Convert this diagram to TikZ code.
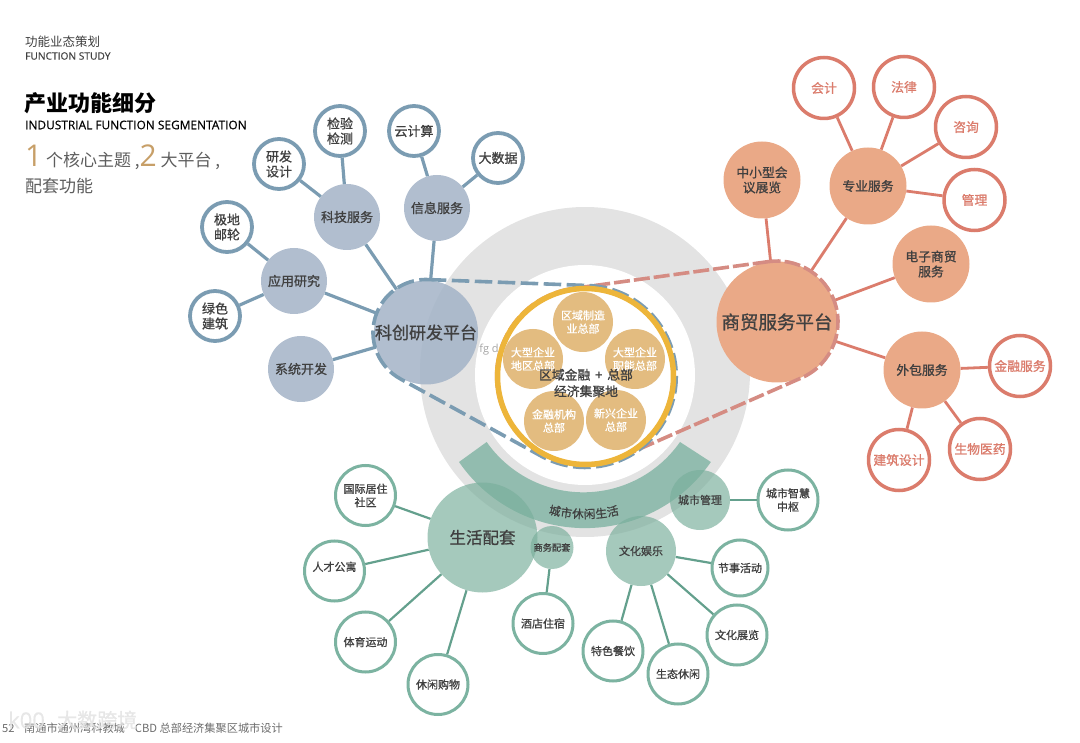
\documentclass[tikz,border=0pt]{standalone}
\usepackage{fontspec}
\setmainfont{Noto Sans CJK SC}
\newfontfamily\medf[FakeBold=1]{Noto Sans CJK SC}
\newfontfamily\latinf{Open Sans}
\newfontfamily\latins[FakeBold=0.35]{Open Sans}
\usetikzlibrary{calc}
\definecolor{ringgray}{HTML}{E3E3E3}
\definecolor{bluefill}{HTML}{A3B3C7}
\definecolor{blueline}{HTML}{7B9CB2}
\definecolor{orangefill}{HTML}{EAA987}
\definecolor{redline}{HTML}{DB7C6C}
\definecolor{reddash}{HTML}{D58C83}
\definecolor{greenfill}{HTML}{7AAF9C}
\definecolor{greenline}{HTML}{7CB3A1}
\definecolor{greenlk}{HTML}{64A08D}
\definecolor{bandgreen}{HTML}{74AE9B}
\definecolor{goldfill}{HTML}{E3BC80}
\definecolor{goldline}{HTML}{EDB53A}
\definecolor{numgold}{HTML}{C79F68}
\definecolor{txt}{HTML}{404040}
\tikzset{
 disc/.style={circle,inner sep=0pt,align=center,font=\medf\fontsize{12.8}{15}\selectfont,text=txt},
 bluehub/.style={disc,fill=bluefill,fill opacity=.85,text opacity=1,minimum size=66pt,font=\medf\fontsize{13}{15}\selectfont},
 blueleaf/.style={disc,draw=blueline,line width=3.8pt,fill=white,minimum size=50pt,font=\medf\fontsize{13}{15}\selectfont},
 bluelink/.style={draw=blueline,line width=3.2pt},
 orangehub/.style={disc,fill=orangefill,text opacity=1,minimum size=77pt},
 redleaf/.style={disc,draw=redline,line width=3.5pt,fill=white,minimum size=61pt,text=redline},
 redlink/.style={draw=redline,line width=2.8pt},
 greenhub/.style={disc,fill=greenfill,fill opacity=.68,text opacity=1,font=\medf\fontsize{11}{14}\selectfont},
 greenleaf/.style={disc,draw=greenline,line width=3pt,fill=white,minimum size=60pt,font=\medf\fontsize{11}{13.5}\selectfont},
 greenlink/.style={draw=greenlk,line width=2.2pt},
 goldnode/.style={disc,fill=goldfill,text=white,minimum size=60pt,font=\medf\fontsize{11}{13.3}\selectfont},
 bluedash/.style={line width=3.6pt,dash pattern=on 17.5pt off 5.5pt},
 reddashed/.style={line width=3.6pt,dash pattern=on 16pt off 4pt},
 plain/.style={inner sep=0pt,anchor=west}
}
\begin{document}
\begin{tikzpicture}[x=1pt,y=1pt,yscale=-1]
\useasboundingbox (0,0) rectangle (1080,743);
% ring
\fill[ringgray] (585,372) circle (165);
\fill[white] (585,375) circle (110);
% green band
\fill[bandgreen,fill opacity=.72] (459,462) arc (145.4:34.6:153) -- (680,442) arc (35:145:118) -- cycle;
% blue group
\node[bluehub,minimum size=104pt,font=\medf\fontsize{17}{20}\selectfont] (kc) at (426,332.5) {科创研发平台};
\node[bluehub] (yy) at (294,281) {应用研究};
\node[bluehub] (kj) at (347,217) {科技服务};
\node[bluehub] (xx) at (437,208) {信息服务};
\node[bluehub] (xt) at (301,369) {系统开发};
\node[blueleaf] (jd) at (227,227) {极地\\邮轮};
\node[blueleaf] (ls) at (215,316) {绿色\\建筑};
\node[blueleaf] (yf) at (279,164) {研发\\设计};
\node[blueleaf] (jy) at (340,131) {检验\\检测};
\node[blueleaf] (yj) at (414,131) {云计算};
\node[blueleaf] (ds) at (498,158) {大数据};
\foreach \a/\b in {kc/yy,kc/kj,kc/xx,kc/xt,yy/jd,yy/ls,kj/yf,kj/jy,xx/yj,xx/ds}
  \draw[bluelink] (\a) -- (\b);
% orange group
\node[orangehub,minimum size=121pt,font=\medf\fontsize{18.5}{22}\selectfont] (sm) at (777,322) {商贸服务平台};
\node[orangehub] (zx) at (762,180) {中小型会\\议展览};
\node[orangehub] (zy) at (868,186) {专业服务};
\node[orangehub] (dz) at (931,264) {电子商贸\\服务};
\node[orangehub] (wb) at (922,370) {外包服务};
\node[redleaf] (kuaiji) at (824,88) {会计};
\node[redleaf] (fl) at (904,87) {法律};
\node[redleaf] (zixun) at (966,127) {咨询};
\node[redleaf] (gl) at (974.5,200) {管理};
\node[redleaf] (jr) at (1020,366) {金融服务};
\node[redleaf] (sw) at (980,449) {生物医药};
\node[redleaf] (jz) at (899,460) {建筑设计};
\foreach \a/\b in {sm/zx,sm/zy,sm/dz,sm/wb,zy/kuaiji,zy/fl,zy/zixun,zy/gl,wb/jr,wb/sw,wb/jz}
  \draw[redlink] (\a) -- (\b);
% green group
\node[greenhub,minimum size=110pt,font=\medf\fontsize{16.5}{20}\selectfont] (sh) at (482.5,537.5) {生活配套};
\node[greenhub,minimum size=43pt,font=\medf\fontsize{9.2}{10}\selectfont] (swpt) at (552,547.5) {商务配套};
\node[greenhub,minimum size=70pt] (wh) at (641,551) {文化娱乐};
\node[greenhub,minimum size=60pt] (cs) at (700,500) {城市管理};
\node[greenleaf] (gj) at (365.5,495.5) {国际居住\\社区};
\node[greenleaf] (rc) at (334.5,571) {\smash{人才公寓}};
\node[greenleaf] (ty) at (365.5,642) {体育运动};
\node[greenleaf] (xg) at (438,684.5) {休闲购物};
\node[greenleaf] (jd2) at (543,623.5) {酒店住宿};
\node[greenleaf] (ts) at (613,651) {特色餐饮};
\node[greenleaf] (st) at (678,674) {生态休闲};
\node[greenleaf] (wz) at (737,635) {文化展览};
\node[greenleaf,minimum size=56pt] (js) at (740,568) {节事活动};
\node[greenleaf] (zh) at (788,500) {城市智慧\\中枢};
\foreach \a/\b in {sh/gj,sh/rc,sh/ty,sh/xg,swpt/jd2,wh/ts,wh/st,wh/wz,wh/js,cs/zh}
  \draw[greenlink] (\a) -- (\b);
% hull outlines
\draw[reddashed,reddash] (768.6,261.6) -- (573,288.5) arc (-97.9:-294.1:88.5) -- (801.9,377.7) arc (65.9:-97.9:61);
\draw[bluedash,blueline] (428.8,279.6) -- (590,285.6) arc (-87:118:91) -- (401.1,379.3) arc (118:273:53);
% gold centre
\draw[goldline,line width=5.5pt,fill=white] (585.5,376.5) circle (88);
\node[goldnode] (g1) at (583,322) {区域制造\\业总部};
\node[goldnode] (g2) at (533,359) {大型企业\\地区总部};
\node[goldnode] (g3) at (635,359) {大型企业\\职能总部};
\node[goldnode] (g4) at (554,421) {金融机构\\总部};
\node[goldnode] (g5) at (616,420) {新兴企业\\总部};
\node[disc,font=\medf\fontsize{12.8}{16.5}\selectfont] (core) at (586,383) {区域金融 \,+\, 总部\\经济集聚地};
\node[inner sep=0pt,text=gray!70,font=\latinf\fontsize{11}{13}\selectfont] (fg) at (489,350) {fg d};
% arc label
\foreach \c/\ang [count=\i] in {城/102.5,市/97.7,休/92.9,闲/88.1,生/83.3,活/78.5}
  \node[inner sep=0pt,text=txt,rotate=90-\ang,font=\medf\fontsize{11.6}{12}\selectfont] (arc\i) at ($(585,375)+(\ang:139)$) {\c};
% header
\node[plain,text=txt,font=\fontsize{12.5}{14}\selectfont] (h1) at (25,42) {功能业态策划};
\node[plain,text=txt,font=\latins\fontsize{10.2}{12}\selectfont] (h2) at (25,56) {FUNCTION STUDY};
\node[plain,text=black,font=\bfseries\fontsize{22}{26}\selectfont] (h3) at (24,103) {产业功能细分};
\node[plain,text=black,font=\latins\fontsize{11.9}{14}\selectfont] (h4) at (25,125) {INDUSTRIAL FUNCTION SEGMENTATION};
\node[plain,text=txt!85,font=\fontsize{17}{20}\selectfont] (h5) at (25,157) {\textcolor{numgold}{\latinf\fontsize{30}{30}\selectfont 1} 个核心主题 ,\textcolor{numgold}{\latinf\fontsize{30}{30}\selectfont 2} 大平台 ,};
\node[plain,text=txt!85,font=\fontsize{17}{20}\selectfont] (h6) at (25,186) {配套功能};
% footer + watermark
\node[plain,text=gray!85!black,font=\fontsize{11.2}{14}\selectfont] (foot) at (2,728) {52 \hspace{7pt}南通市通州湾科教城\hspace{10pt}CBD 总部经济集聚区城市设计};
\node[plain,text=gray!22,opacity=.85,font=\medf\fontsize{20}{24}\selectfont] (wm) at (57,720) {大数跨境};
\node[plain,text=gray!22,opacity=.85,font=\latins\fontsize{22}{24}\selectfont] (wl) at (8,720) {k00};
\end{tikzpicture}
\end{document}
